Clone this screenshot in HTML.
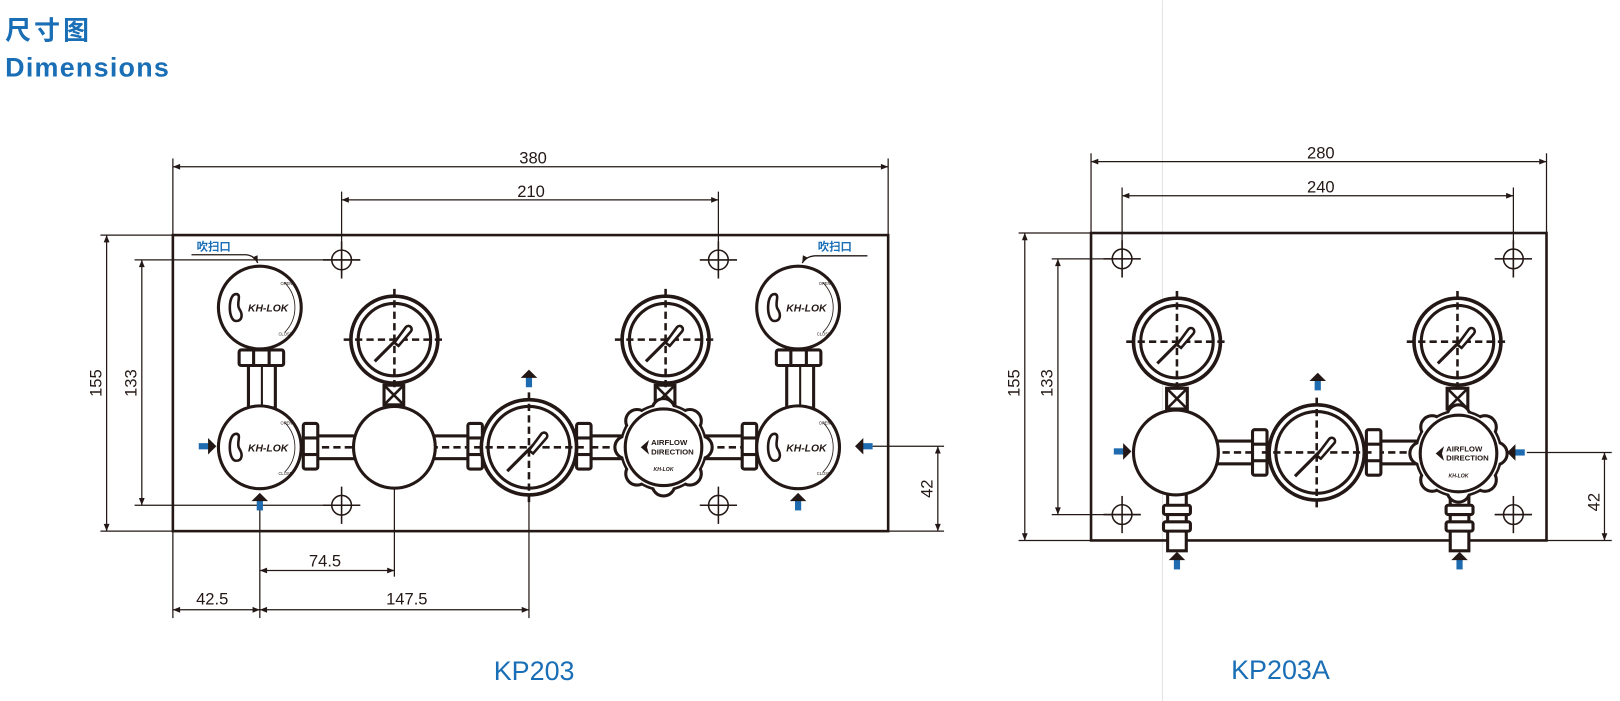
<!DOCTYPE html>
<html><head><meta charset="utf-8"><style>
html,body{margin:0;padding:0;background:#fff;width:1620px;height:701px;overflow:hidden}
svg{display:block}
text{font-family:"Liberation Sans","Noto Sans CJK SC",sans-serif}
</style></head><body>
<svg width="1620" height="701" viewBox="0 0 1565 677" xmlns="http://www.w3.org/2000/svg">
<defs>
<marker id="ar" viewBox="0 0 10 10" refX="10" refY="5" markerWidth="9" markerHeight="7" orient="auto-start-reverse" markerUnits="userSpaceOnUse"><path d="M0,1 L10,5 L0,9z" fill="#231815"/></marker>
<g id="gS">
<circle r="42" fill="#fff" stroke="#231815" stroke-width="3.5"/>
<circle r="35" fill="none" stroke="#231815" stroke-width="3"/>
<line x1="-49" y1="0" x2="49" y2="0" stroke="#231815" stroke-width="2.5" stroke-dasharray="7 4"/>
<line x1="0" y1="-49" x2="0" y2="49" stroke="#231815" stroke-width="2.5" stroke-dasharray="7 4"/>
<line x1="-19" y1="21" x2="4" y2="-2" stroke="#231815" stroke-width="3"/>
<path d="M0,3 L11,-12 a3,3 0 0 1 5,4 L4,6z" fill="#fff" stroke="#231815" stroke-width="2.5"/>
</g>
<g id="gL">
<circle r="46" fill="#fff" stroke="#231815" stroke-width="3.5"/>
<circle r="39.5" fill="none" stroke="#231815" stroke-width="3"/>
<line x1="-53" y1="0" x2="53" y2="0" stroke="#231815" stroke-width="2.5" stroke-dasharray="7 4"/>
<line x1="0" y1="-53" x2="0" y2="53" stroke="#231815" stroke-width="2.5" stroke-dasharray="7 4"/>
<line x1="-21" y1="23" x2="4" y2="-2" stroke="#231815" stroke-width="3"/>
<path d="M0,3 L12,-13 a3,3 0 0 1 5,4 L4,6z" fill="#fff" stroke="#231815" stroke-width="2.5"/>
</g>
<g id="pr">
<circle r="40" fill="#fff" stroke="#231815" stroke-width="3"/>
<path d="M-23,-13 c-8,0 -8,26 0,26 c6,0 7,-6 3,-12 c-3,-5 3,-14 -3,-14z" fill="none" stroke="#231815" stroke-width="2.5"/>
<text x="8" y="4" font-size="10" font-weight="bold" font-style="italic" text-anchor="middle" fill="#231815" font-family="Liberation Serif,serif">KH-LOK</text>
<path d="M24,-24 A34,34 0 0 1 24,24" fill="none" stroke="#231815" stroke-width="0.8"/>
<text x="20" y="-22" font-size="4" fill="#231815">OPEN</text>
<text x="18" y="27" font-size="4" fill="#231815">CLOSE</text>
</g>
<g id="kn">
<circle r="41" fill="#fff" stroke="#231815" stroke-width="3"/>
<g fill="#fff" stroke="#231815" stroke-width="3">
<circle cx="36" cy="0" r="11"/><circle cx="-36" cy="0" r="11"/><circle cx="0" cy="36" r="11"/><circle cx="0" cy="-36" r="11"/>
<circle cx="25.5" cy="25.5" r="11"/><circle cx="-25.5" cy="25.5" r="11"/><circle cx="25.5" cy="-25.5" r="11"/><circle cx="-25.5" cy="-25.5" r="11"/>
</g>
<circle r="40" fill="#fff"/>
<circle r="37" fill="none" stroke="#231815" stroke-width="3"/>
<path d="M-22,0 L-14,-7 L-16,0 L-14,7z" fill="#231815"/>
<text x="-12" y="-2" font-size="7.5" font-weight="bold" fill="#231815">AIRFLOW</text>
<text x="-12" y="7" font-size="7.5" font-weight="bold" fill="#231815">DIRECTION</text>
<text x="0" y="23" font-size="5" font-weight="bold" font-style="italic" text-anchor="middle" fill="#231815">KH-LOK</text>
</g>
<g id="hole" stroke="#231815" stroke-width="1.5" fill="none"><circle r="9.5"/><line x1="-18" x2="18"/><line y1="-18" y2="18"/></g>
<g id="nutH" fill="#fff" stroke="#231815" stroke-width="3"><rect x="-7" y="-22" width="14" height="44" rx="2"/><line x1="-7" y1="-8" x2="7" y2="-8"/><line x1="-7" y1="8" x2="7" y2="8"/></g>
<g id="aR"><rect x="-17" y="-3" width="10" height="6" fill="#1f6bb0"/><path d="M-8,-8 L0,0 L-8,8z" fill="#231815"/></g>
</defs>

<line x1="1123" y1="0" x2="1123" y2="677" stroke="#e4e4e4" stroke-width="1"/>

<text x="5" y="38" font-size="25" font-weight="bold" fill="#1a6eb6" letter-spacing="3">尺寸图</text>
<text x="5" y="74" font-size="26" font-weight="bold" fill="#1a6eb6" letter-spacing="1.2">Dimensions</text>

<!-- ============ LEFT KP203 ============ -->
<g stroke="#231815" stroke-width="1.2" fill="none">
<line x1="167" y1="153" x2="167" y2="227"/><line x1="858" y1="153" x2="858" y2="227"/>
<line x1="167" y1="161" x2="858" y2="161" marker-start="url(#ar)" marker-end="url(#ar)"/>
<line x1="330" y1="185" x2="330" y2="266"/><line x1="694" y1="185" x2="694" y2="266"/>
<line x1="330" y1="193" x2="694" y2="193" marker-start="url(#ar)" marker-end="url(#ar)"/>
<line x1="97" y1="227" x2="167" y2="227"/><line x1="97" y1="513" x2="167" y2="513"/>
<line x1="103" y1="227" x2="103" y2="513" marker-start="url(#ar)" marker-end="url(#ar)"/>
<line x1="130" y1="251" x2="348" y2="251"/><line x1="130" y1="488" x2="348" y2="488"/>
<line x1="137" y1="251" x2="137" y2="488" marker-start="url(#ar)" marker-end="url(#ar)"/>
<line x1="167" y1="513" x2="167" y2="597"/>
<line x1="251" y1="478" x2="251" y2="597"/>
<line x1="381" y1="472" x2="381" y2="557"/>
<line x1="511" y1="480" x2="511" y2="597"/>
<line x1="251" y1="551" x2="381" y2="551" marker-start="url(#ar)" marker-end="url(#ar)"/>
<line x1="167" y1="589" x2="251" y2="589" marker-start="url(#ar)" marker-end="url(#ar)"/>
<line x1="251" y1="589" x2="511" y2="589" marker-start="url(#ar)" marker-end="url(#ar)"/>
<line x1="843" y1="431" x2="912" y2="431"/><line x1="858" y1="513" x2="912" y2="513"/>
<line x1="906" y1="431" x2="906" y2="513" marker-start="url(#ar)" marker-end="url(#ar)"/>
</g>
<rect x="167" y="227" width="691" height="286" fill="none" stroke="#231815" stroke-width="2.5"/>
<g font-size="16" fill="#231815" text-anchor="middle">
<text x="515" y="158">380</text><text x="513" y="190">210</text>
<text x="314" y="547">74.5</text><text x="205" y="584">42.5</text><text x="393" y="584">147.5</text>
<text transform="translate(98,370) rotate(-90)">155</text>
<text transform="translate(132,370) rotate(-90)">133</text>
<text transform="translate(901,472) rotate(-90)">42</text>
</g>
<use href="#hole" x="330" y="251"/><use href="#hole" x="694" y="251"/>
<use href="#hole" x="330" y="488"/><use href="#hole" x="694" y="488"/>

<g fill="#fff" stroke="#231815" stroke-width="3">
<rect x="300" y="421" width="46" height="22"/><rect x="416" y="421" width="44" height="22"/>
<rect x="560" y="421" width="42" height="22"/><rect x="682" y="421" width="42" height="22"/>
<rect x="240" y="350" width="26" height="44"/><rect x="760" y="350" width="26" height="44"/>
</g>
<g stroke="#231815" stroke-width="2.5" stroke-dasharray="7 4">
<line x1="300" y1="432" x2="346" y2="432"/><line x1="416" y1="432" x2="460" y2="432"/>
<line x1="560" y1="432" x2="602" y2="432"/><line x1="682" y1="432" x2="724" y2="432"/>
</g>
<line x1="253" y1="352" x2="253" y2="392" stroke="#231815" stroke-width="2"/>
<line x1="773" y1="352" x2="773" y2="392" stroke="#231815" stroke-width="2"/>
<use href="#nutH" x="300" y="431"/><use href="#nutH" x="459" y="431"/>
<use href="#nutH" x="564" y="431"/><use href="#nutH" x="724" y="431"/>
<g fill="#fff" stroke="#231815" stroke-width="3">
<rect x="231" y="338" width="43" height="15" rx="2"/><line x1="245" y1="338" x2="245" y2="353"/><line x1="260" y1="338" x2="260" y2="353"/>
<rect x="750" y="338" width="43" height="15" rx="2"/><line x1="764" y1="338" x2="764" y2="353"/><line x1="779" y1="338" x2="779" y2="353"/>
<rect x="371" y="372" width="19" height="19"/><rect x="633" y="372" width="19" height="19"/>
</g>
<g stroke="#231815" stroke-width="2.5"><path d="M371,372 L390,391 M390,372 L371,391 M633,372 L652,391 M652,372 L633,391"/></g>
<use href="#pr" x="251" y="297"/><use href="#pr" x="251" y="432"/>
<use href="#pr" x="771" y="297"/><use href="#pr" x="771" y="432"/>
<use href="#gS" x="381" y="328"/><use href="#gS" x="643" y="328"/>
<circle cx="381" cy="432" r="39.5" fill="#fff" stroke="#231815" stroke-width="3"/>
<use href="#gL" x="511" y="432"/>
<use href="#kn" x="641" y="432"/>
<use href="#aR" x="209" y="431"/>
<use href="#aR" transform="translate(251,476) rotate(-90)"/>
<use href="#aR" transform="translate(771,476) rotate(-90)"/>
<use href="#aR" transform="translate(511,357) rotate(-90)"/>
<use href="#aR" transform="translate(826,431) rotate(180)"/>
<g font-size="11" font-weight="bold" fill="#1a6eb6">
<text x="190" y="242">吹扫口</text><text x="790" y="242">吹扫口</text>
</g>
<g stroke="#231815" stroke-width="1.3" fill="none">
<path d="M185,246 L238,246 Q246,247 249,254" marker-end="url(#ar)"/>
<path d="M838,247 L787,247 Q778,248 775,254" marker-end="url(#ar)"/>
</g>
<text x="516" y="657" font-size="26" fill="#1a6eb6" text-anchor="middle">KP203</text>

<!-- ============ RIGHT KP203A ============ -->
<g stroke="#231815" stroke-width="1.2" fill="none">
<line x1="1054" y1="148" x2="1054" y2="225"/><line x1="1494" y1="148" x2="1494" y2="225"/>
<line x1="1054" y1="156" x2="1494" y2="156" marker-start="url(#ar)" marker-end="url(#ar)"/>
<line x1="1084" y1="181" x2="1084" y2="268"/><line x1="1462" y1="181" x2="1462" y2="268"/>
<line x1="1084" y1="189" x2="1462" y2="189" marker-start="url(#ar)" marker-end="url(#ar)"/>
<line x1="984" y1="225" x2="1054" y2="225"/><line x1="984" y1="522" x2="1054" y2="522"/>
<line x1="990" y1="225" x2="990" y2="522" marker-start="url(#ar)" marker-end="url(#ar)"/>
<line x1="1016" y1="250" x2="1102" y2="250"/><line x1="1016" y1="497" x2="1102" y2="497"/>
<line x1="1022" y1="250" x2="1022" y2="497" marker-start="url(#ar)" marker-end="url(#ar)"/>
<line x1="1475" y1="437" x2="1557" y2="437"/><line x1="1494" y1="522" x2="1557" y2="522"/>
<line x1="1550" y1="437" x2="1550" y2="522" marker-start="url(#ar)" marker-end="url(#ar)"/>
<line x1="1444" y1="250" x2="1480" y2="250"/><line x1="1444" y1="497" x2="1480" y2="497"/>
</g>
<rect x="1054" y="225" width="440" height="297" fill="none" stroke="#231815" stroke-width="2.5"/>
<g font-size="16" fill="#231815" text-anchor="middle">
<text x="1276" y="153">280</text><text x="1276" y="186">240</text>
<text transform="translate(985,370) rotate(-90)">155</text>
<text transform="translate(1017,370) rotate(-90)">133</text>
<text transform="translate(1545,485) rotate(-90)">42</text>
</g>
<use href="#hole" x="1084" y="250"/><use href="#hole" x="1462" y="250"/>
<use href="#hole" x="1084" y="497"/><use href="#hole" x="1462" y="497"/>
<g fill="#fff" stroke="#231815" stroke-width="3">
<rect x="1170" y="426" width="46" height="22"/><rect x="1330" y="426" width="40" height="22"/>
<rect x="1128" y="474" width="18" height="58"/><rect x="1401" y="480" width="18" height="52"/>
<rect x="1124" y="488" width="26" height="9" rx="2"/><rect x="1124" y="504" width="26" height="9" rx="2"/>
<rect x="1397" y="488" width="26" height="9" rx="2"/><rect x="1397" y="504" width="26" height="9" rx="2"/>
<rect x="1127" y="375" width="20" height="20"/><rect x="1398" y="375" width="20" height="20"/>
</g>
<g stroke="#231815" stroke-width="2.5"><path d="M1127,375 L1147,395 M1147,375 L1127,395 M1398,375 L1418,395 M1418,375 L1398,395"/></g>
<g stroke="#231815" stroke-width="2.5" stroke-dasharray="7 4">
<line x1="1170" y1="437" x2="1216" y2="437"/><line x1="1330" y1="437" x2="1370" y2="437"/>
</g>
<use href="#nutH" x="1217" y="437"/><use href="#nutH" x="1327" y="437"/>
<use href="#gS" x="1137" y="330"/><use href="#gS" x="1408" y="330"/>
<circle cx="1136" cy="437" r="41" fill="#fff" stroke="#231815" stroke-width="3"/>
<use href="#gL" x="1272" y="437"/>
<use href="#kn" x="1409" y="438"/>
<use href="#aR" x="1093" y="436"/>
<use href="#aR" transform="translate(1137,533) rotate(-90)"/>
<use href="#aR" transform="translate(1410,533) rotate(-90)"/>
<use href="#aR" transform="translate(1273,360) rotate(-90)"/>
<use href="#aR" transform="translate(1456,437) rotate(180)"/>
<text x="1237" y="656" font-size="26" fill="#1a6eb6" text-anchor="middle">KP203A</text>
</svg>
</body></html>
